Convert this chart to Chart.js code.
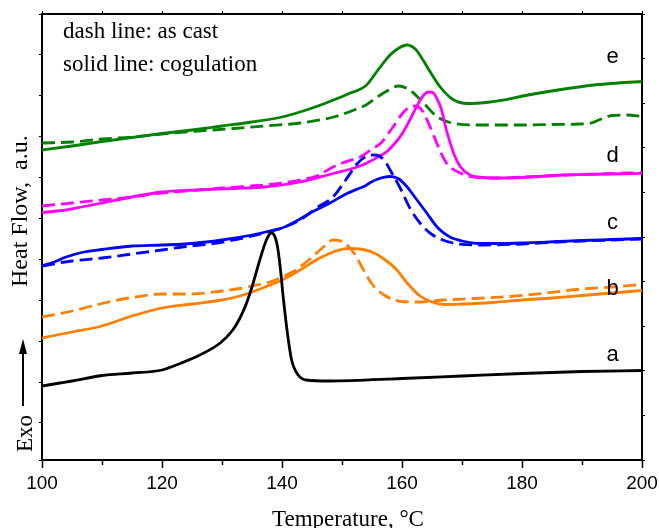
<!DOCTYPE html>
<html><head><meta charset="utf-8">
<script src="https://cdn.jsdelivr.net/npm/chart.js@4.4.1/dist/chart.umd.min.js"></script>
<style>html,body{margin:0;padding:0;background:#fff;}canvas{display:block}</style>
</head><body>
<canvas id="c" width="659" height="528"></canvas>
<script>
// Temperature (°C) and heat flow (a.u.)
const tA  = [100,103,105,110,115,120,123,126.3,129.7,131.8,133,134.1,135.2,136.3,137.4,138.2,138.7,139.2,139.7,140.2,140.9,141.6,142.7,144,148,160,170,180,190,200];
const vA  = [7.4,7.7,7.9,8.45,8.7,9.0,9.65,10.5,11.7,13.0,14.2,15.7,17.7,20.0,22.0,22.7,22.5,21.5,19.3,16.3,12.7,10.0,8.5,8.0,7.9,8.15,8.4,8.65,8.85,8.95];

const tBs = [100,105,110,115,120,125,130,133,135,138,140,143,146,149,151,153,155,157,159,161,163,165,167,170,175,180,185,190,195,200];
const vBs = [12.2,12.8,13.4,14.4,15.2,15.6,16.0,16.4,16.8,17.5,18.0,19.0,20.1,20.9,21.15,21.1,20.8,20.1,19.1,17.6,16.4,15.8,15.55,15.6,15.75,16.0,16.2,16.45,16.7,16.95];
const tBd = [100,105,110,115,120,125,130,133,135,138,140,142,144.5,147,148.5,150,152,153.5,155,157,160,163,167,172,178,184,190,195,200];
const vBd = [14.3,14.9,15.65,16.25,16.6,16.6,16.9,17.15,17.4,17.8,18.3,18.9,20.0,21.35,22.0,21.85,20.7,19.1,17.6,16.5,15.85,15.8,16.0,16.15,16.35,16.7,17.1,17.3,17.55];

const tCs = [100,102,104,107,110,115,120,125,130,135,138,140,143,145,148,151,153,154,154.6,156,158,159.5,161,162,164,166,168,170,173,176,180,186,190,195,200];
const vCs = [19.4,19.8,20.3,20.8,21.05,21.4,21.5,21.65,22.0,22.5,22.9,23.2,24.1,24.8,25.7,26.7,27.2,27.45,27.7,28.1,28.35,28.1,27.2,26.4,24.8,23.2,22.3,21.9,21.65,21.65,21.7,21.85,21.95,22.05,22.15];
const tCd = [100,105,110,115,120,124,128,132,137,140,143,146,148.5,150.5,152.5,154,155.5,157,158.3,159.7,161.3,163,165,168.5,173,180,186,190,195,200];
const vCd = [19.4,19.9,20.2,20.6,21.0,21.35,21.6,22.0,22.7,23.2,24.0,25.3,26.3,27.9,29.6,30.35,30.5,30.0,28.7,27.2,25.2,23.7,22.55,21.7,21.5,21.6,21.8,21.9,22.0,22.1];

const tDs = [100,104,107,110,115,120,126,132,137,143,148.5,152,154,156,157.5,159,160,161.3,162.5,163.5,164.4,165.2,166,166.5,167.4,168.6,169.7,171.3,173.6,176,180,186.7,190,195,200];
const vDs = [24.75,25.0,25.35,25.7,26.3,26.8,27.0,27.15,27.3,27.8,28.65,29.2,29.65,30.3,30.85,31.8,32.6,34.0,35.4,36.4,36.8,36.73,35.9,35.2,33.0,30.7,29.35,28.5,28.25,28.2,28.25,28.5,28.55,28.6,28.67];
const tDd = [100,105,110,115,120,125,130,135,140,143,146,148.5,151,153,155,156.5,158.5,160,161,162.2,163.3,164.7,166,167.4,169.7,172,176,180,186,190,195,200];
const vDd = [25.4,25.7,26.0,26.3,26.7,26.95,27.2,27.4,27.7,28.0,28.45,29.3,29.9,30.3,31.1,31.7,33.3,34.6,35.2,35.4,35.0,33.3,31.4,29.7,28.7,28.3,28.2,28.3,28.45,28.55,28.65,28.75];

const tEs = [100,105,110,115,120,125,130,135,140,143,146,148.6,151,154,156,158,159.5,160.8,162.3,163.5,164.5,166.3,168.5,171,174,176.3,181,186,192,196,200];
const vEs = [31.0,31.4,31.85,32.25,32.65,33.0,33.4,33.8,34.3,34.8,35.4,36.0,36.6,37.45,39.0,40.5,41.2,41.5,41.05,40.0,39.0,37.35,36.05,35.65,35.75,35.93,36.5,37.0,37.5,37.7,37.85];
const tEd = [100,105,110,115,120,126,132,137,143,148.6,152,154,156,157.5,159.4,161.3,163.6,165.8,168,172,176,180,185,189.5,191.5,193,195,197.5,200];
const vEd = [31.7,31.8,32.1,32.3,32.6,32.9,33.15,33.4,33.7,34.3,35.0,35.5,36.35,36.9,37.4,37.0,35.7,34.35,33.75,33.5,33.5,33.5,33.55,33.6,33.7,34.05,34.45,34.5,34.35];

const xTicksMajor = [100,120,140,160,180,200];
const curveNames = ['a','b','c','d','e'];
const curveNameT = 195.1;
const curveNameV = [9.93,16.53,23.07,29.77,39.67];
const noteLines = ['dash line: as cast','solid line: cogulation'];
const yTitle = 'Heat Flow,  a.u.';
const exoText = 'Exo';
const xTitle = 'Temperature, °C';

const serif = "'Liberation Serif','Times New Roman',serif";
const sans = "'Liberation Sans',Arial,sans-serif";
const pts = (t,v) => t.map((x,i)=>({x:x,y:v[i]}));
const DASH = [13,6];
function ds(t,v,color,dashed){
  return {data:pts(t,v),borderColor:color,backgroundColor:color,borderWidth:2.8,
    borderDash:dashed?DASH:[],pointRadius:0,cubicInterpolationMode:'monotone',
    fill:false,xAxisID:'x',yAxisID:'yd'};
}

const deco = {
  id:'deco',
  afterDraw(chart){
    const ctx = chart.ctx, xs = chart.scales.x, ys = chart.scales.yd, ca = chart.chartArea;
    ctx.save();
    ctx.fillStyle = '#000';
    ctx.textBaseline = 'alphabetic';
    ctx.textAlign = 'left';
    ctx.font = '23px ' + serif;
    ctx.fillText(noteLines[0], ca.left + 21, 38);
    ctx.fillText(noteLines[1], ca.left + 21, 71);
    ctx.font = '22px ' + sans;
    ctx.textAlign = 'center';
    curveNames.forEach((n,i)=>ctx.fillText(n, xs.getPixelForValue(curveNameT), ys.getPixelForValue(curveNameV[i])));
    ctx.textAlign = 'left';
    ctx.font = '24px ' + serif;
    ctx.save(); ctx.translate(27, 287); ctx.rotate(-Math.PI/2); ctx.fillText(yTitle, 0, 0); ctx.restore();
    ctx.font = '23px ' + serif;
    ctx.save(); ctx.translate(32, 452); ctx.rotate(-Math.PI/2); ctx.fillText(exoText, 0, 0); ctx.restore();
    ctx.strokeStyle = '#000'; ctx.lineWidth = 2;
    ctx.beginPath(); ctx.moveTo(23, 406); ctx.lineTo(23, 350); ctx.stroke();
    ctx.beginPath(); ctx.moveTo(23, 339); ctx.lineTo(19, 354); ctx.lineTo(27, 354); ctx.closePath(); ctx.fill();
    ctx.textAlign = 'center';
    ctx.font = '23px ' + serif;
    ctx.fillText(xTitle, 348, 526);
    ctx.restore();
  }
};

const hiddenGrid = {drawOnChartArea:false, color:'#000', tickColor:'#000', tickLength:3, tickWidth:1};
new Chart(document.getElementById('c'), {
  type:'line',
  data:{datasets:[
    ds(tA,vA,'#000000',false),
    ds(tBs,vBs,'#ff8000',false),
    ds(tBd,vBd,'#ff8000',true),
    ds(tCs,vCs,'#0000ff',false),
    ds(tCd,vCd,'#0000ff',true),
    ds(tDs,vDs,'#ff00ff',false),
    ds(tDd,vDd,'#ff00ff',true),
    ds(tEs,vEs,'#008000',false),
    ds(tEd,vEd,'#008000',true)
  ]},
  options:{
    responsive:false, animation:false, devicePixelRatio:1,
    layout:{padding:0},
    plugins:{legend:{display:false}, tooltip:{enabled:false}},
    scales:{
      x:{type:'linear', position:'bottom', min:100, max:200,
        ticks:{stepSize:10, autoSkip:false, maxRotation:0, color:'#000', font:{family:sans, size:19}, padding:4,
          callback:v => xTicksMajor.includes(v) ? String(v) : ''},
        grid:{drawOnChartArea:false, tickLength:8, tickColor:'#000', tickWidth:1.5,
          tickBorderDash: c => (c.tick && xTicksMajor.includes(c.tick.value)) ? [] : [4,100]},
        border:{color:'#000', width:2},
        afterFit:s=>{s.height = 68; s.paddingLeft = 0; s.paddingRight = 0;}},
      x2:{type:'linear', position:'top', min:100, max:200,
        ticks:{display:false, stepSize:10},
        grid:hiddenGrid, border:{color:'#000', width:2},
        afterFit:s=>{s.height = 14; s.paddingLeft = 0; s.paddingRight = 0;}},
      y:{type:'linear', position:'left', min:-0.905, max:10,
        ticks:{display:false, stepSize:1},
        grid:hiddenGrid, border:{color:'#000', width:2},
        afterFit:s=>{s.width = 42; s.paddingTop = 0; s.paddingBottom = 0;}},
      y2:{type:'linear', position:'right', min:0, max:10,
        ticks:{display:false, stepSize:1},
        grid:hiddenGrid, border:{color:'#000', width:2},
        afterFit:s=>{s.width = 17; s.paddingTop = 0; s.paddingBottom = 0;}},
      yd:{type:'linear', display:false, min:0, max:44.6}
    }
  },
  plugins:[deco]
});
</script>
</body></html>
